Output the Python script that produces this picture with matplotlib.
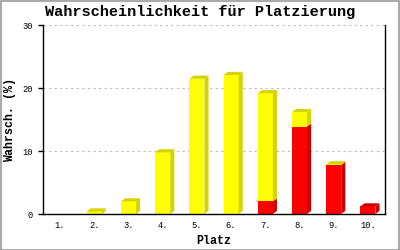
import matplotlib
matplotlib.use("Agg")
import matplotlib.pyplot as plt
from matplotlib.patches import Polygon, Rectangle

places = ["1.", "2.", "3.", "4.", "5.", "6.", "7.", "8.", "9.", "10."]
red_vals = [0, 0, 0, 0, 0, 0, 2.0, 13.9, 7.8, 1.2]
yellow_vals = [0, 0.4, 2.0, 9.8, 21.5, 22.1, 17.2, 2.3, 0.1, 0]
y_ticks = [0, 10, 20, 30]

mono = "Liberation Mono"
fig = plt.figure(figsize=(4, 2.5), dpi=100)
ax = fig.add_axes([43 / 400, 1 - 214 / 250, 342 / 400, (214 - 25.3) / 250])

width = 0.44
dx, dy = 0.12, 0.5
faces = [("#ff0000", "#cc0000"), ("#ffff00", "#d4d400")]

for i, (r, yv) in enumerate(zip(red_vals, yellow_vals)):
    x = i + 1
    bottom = 0.0
    top_color = None
    for val, (front, dark) in zip([r, yv], faces):
        if val <= 0:
            continue
        ax.bar(x, val, width=width, bottom=bottom, color=front, zorder=3)
        xr = x + width / 2
        ax.add_patch(Polygon([(xr, bottom), (xr + dx, bottom + dy), (xr + dx, bottom + val + dy),
                              (xr, bottom + val)], closed=True, color=dark, lw=0, zorder=3))
        bottom += val
        top_color = dark
    if top_color is not None:
        xl = x - width / 2
        xr = x + width / 2
        ax.add_patch(Polygon([(xl, bottom), (xl + dx, bottom + dy), (xr + dx, bottom + dy), (xr, bottom)],
                             closed=True, color=top_color, lw=0, zorder=3))

ax.set_xlim(0.5, 10.5)
ax.set_ylim(0, 30)
ax.set_xticks(range(1, 11))
ax.set_xticklabels(places, fontfamily=mono, fontsize=6.3)
ax.set_yticks(y_ticks)
ax.set_yticklabels([str(t) for t in y_ticks], fontfamily=mono, fontsize=6.3)
ax.tick_params(axis="x", length=0, pad=5)
ax.tick_params(axis="y", length=3.6, width=1, pad=4, color="black")
for t in y_ticks[1:]:
    ax.axhline(t, color="#bbbbbb", lw=0.8, ls=(0, (2, 3)), zorder=1)
ax.spines["top"].set_visible(False)
for side in ["left", "bottom", "right"]:
    ax.spines[side].set_linewidth(1)
    ax.spines[side].set_zorder(4)

ax.set_xlabel("Platz", fontfamily=mono, fontweight="bold", fontsize=8.4, labelpad=4)
ax.set_ylabel("Wahrsch. (%)", fontfamily=mono, fontweight="bold", fontsize=8.4, labelpad=4)
fig.text(0.5, 1 - 12 / 250, "Wahrscheinlichkeit für Platzierung", ha="center", va="center",
         fontfamily=mono, fontweight="bold", fontsize=11)

fig.patches.append(Rectangle((0.5 / 400, 0.5 / 250), 398.5 / 400, 248.5 / 250, transform=fig.transFigure,
                             fill=False, edgecolor="#999999", lw=1.2))

fig.savefig("out.png", dpi=100)
